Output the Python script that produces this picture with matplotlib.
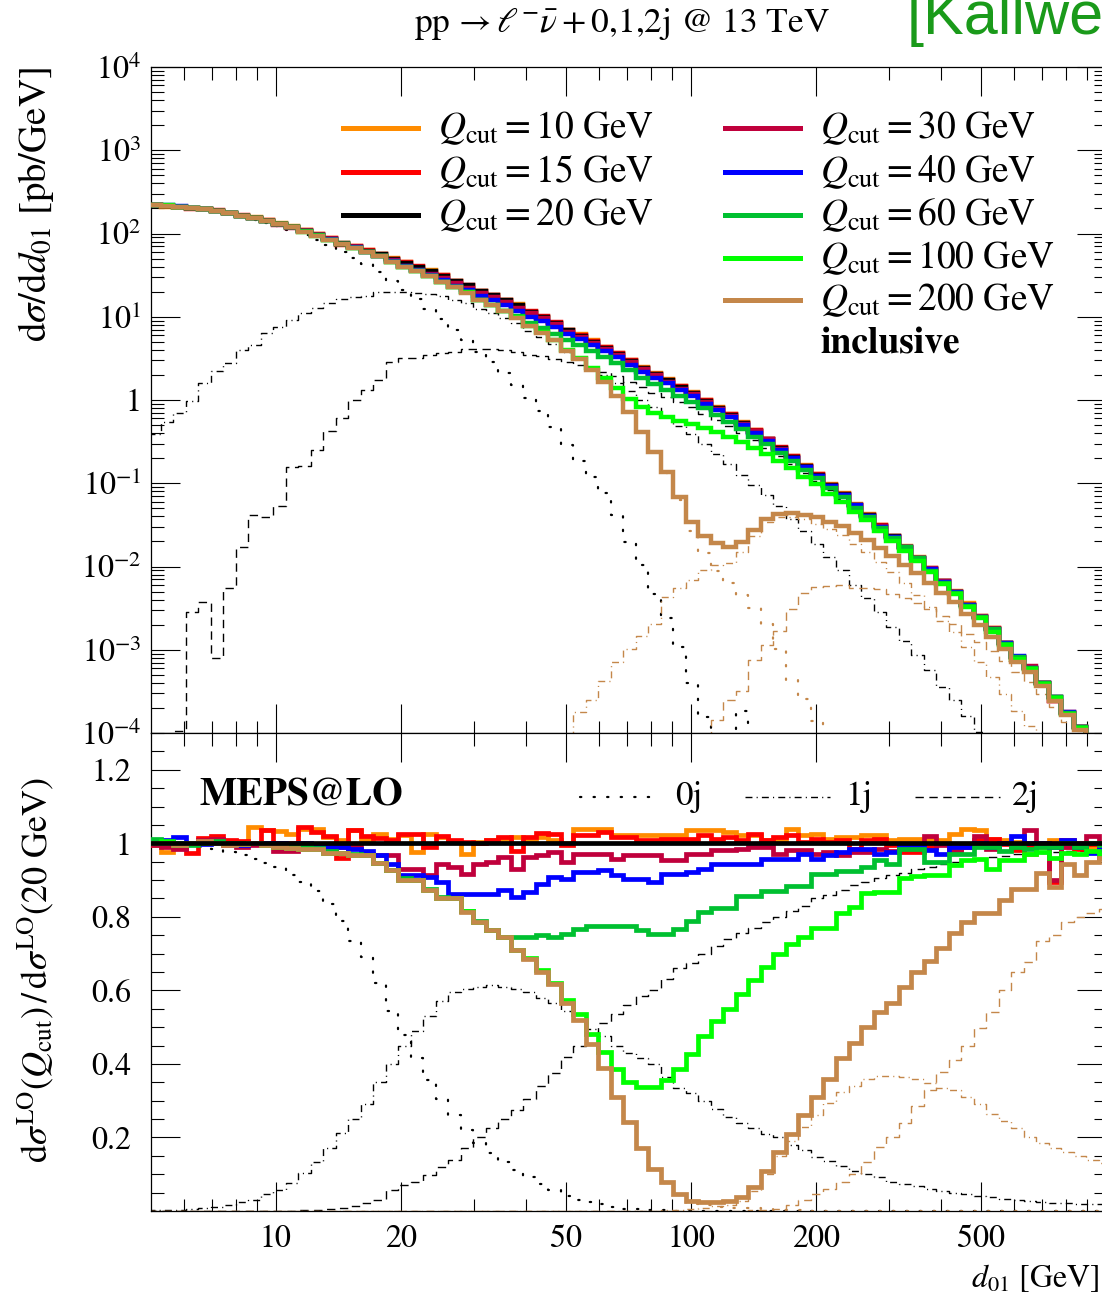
import numpy as np
import matplotlib
matplotlib.use("Agg")
import matplotlib.pyplot as plt
from matplotlib.lines import Line2D
from matplotlib.ticker import FixedLocator, FuncFormatter, LogLocator, NullFormatter, MultipleLocator

plt.rcParams['font.family'] = 'STIXGeneral'
plt.rcParams['mathtext.fontset'] = 'stix'

# ---------------------------------------------------------------- data
# logarithmic d01 binning [GeV]
bin_edges = 4.93 * 10 ** (0.03012 * np.arange(78))

# Q_cut = 20 GeV reference, dsigma/dd01 [pb/GeV]
ref_qcut20 = [
    219, 216, 211, 204, 196, 186, 176, 164, 153, 141,
    130, 120, 107, 96, 86, 76, 69, 62, 56, 49.5,
    44, 39.6, 35.3, 30.8, 26.9, 24.0, 20.3, 18.2, 15.8, 13.8,
    11.4, 9.9, 8.4, 6.9, 5.9, 5.0, 4.2, 3.6, 2.95, 2.42,
    2.05, 1.74, 1.44, 1.21, 0.975, 0.80, 0.66, 0.53, 0.424, 0.34,
    0.265, 0.207, 0.161, 0.126, 0.096, 0.0745, 0.0552, 0.0416, 0.0307, 0.0233,
    0.0172, 0.0127, 0.0094, 0.0067, 0.0050, 0.00346, 0.00248, 0.00178, 0.00121, 0.00082,
    0.00061, 0.0004, 0.000272, 0.000175, 0.000119, 7.6e-5, 5.2e-5]

# ratios d sigma(Q_cut) / d sigma(20 GeV)
ratio_qcut10 = [
    0.995, 0.976, 0.99, 1.0, 1.01, 1.005, 1.005, 1.0, 1.043, 1.035,
    1.034, 1.025, 1.04, 1.04, 1.017, 1.008, 1.035, 1.013, 1.026, 1.013,
    1.022, 0.976, 1.026, 1.017, 1.004, 0.972, 1.004, 1.008, 1.013, 1.017,
    1.008, 1.017, 1.008, 1.0, 1.04, 1.04, 1.04, 1.022, 1.022, 1.022,
    1.022, 1.022, 1.022, 1.035, 1.035, 1.035, 1.03, 1.022, 1.022, 1.008,
    1.008, 1.04, 1.022, 1.026, 1.013, 1.017, 1.017, 1.022, 1.022, 1.008,
    1.013, 1.013, 1.013, 1.008, 1.026, 1.04, 1.035, 1.013, 1.008, 1.004,
    0.972, 0.99, 1.008, 0.99, 0.99, 0.99, 1.0]
ratio_qcut15 = [
    1.0, 0.995, 0.99, 0.975, 1.015, 1.02, 1.01, 1.005, 1.0, 1.037,
    1.0, 1.0, 1.043, 1.03, 1.02, 0.96, 1.035, 1.02, 1.015, 1.01,
    1.025, 1.025, 0.99, 1.02, 1.008, 1.004, 1.0, 1.008, 1.017, 0.98,
    1.017, 1.028, 1.026, 0.995, 1.022, 1.022, 1.031, 1.017, 1.017, 1.008,
    1.008, 1.013, 1.013, 1.013, 1.022, 1.013, 1.017, 1.008, 1.026, 1.008,
    1.017, 1.022, 1.004, 1.013, 1.004, 1.008, 0.985, 1.008, 1.013, 0.995,
    0.976, 0.976, 0.99, 0.999, 0.985, 0.99, 1.008, 1.013, 0.999, 0.981,
    0.99, 0.999, 0.895, 1.008, 0.985, 0.999, 0.995]
ratio_qcut30 = [
    0.995, 0.99, 0.985, 1.0, 1.01, 1.012, 0.995, 0.99, 0.995, 0.995,
    0.98, 0.98, 1.0, 0.995, 0.995, 0.99, 0.99, 0.97, 0.967, 0.967,
    0.93, 0.93, 0.913, 0.943, 0.936, 0.917, 0.945, 0.95, 0.963, 0.93,
    0.963, 0.967, 0.976, 0.95, 0.972, 0.972, 0.972, 0.958, 0.967, 0.967,
    0.967, 0.954, 0.954, 0.972, 0.972, 0.981, 0.981, 0.985, 0.99, 0.99,
    0.972, 0.981, 0.981, 0.972, 0.976, 0.967, 0.976, 0.976, 0.985, 0.98,
    0.99, 0.99, 1.02, 0.995, 0.98, 0.99, 1.02, 0.985, 1.0, 0.99,
    1.035, 1.0, 0.9, 0.99, 1.0, 1.02, 0.96]
ratio_qcut40 = [
    1.0, 1.01, 1.016, 1.0, 0.998, 1.0, 1.0, 0.995, 1.0, 1.002,
    1.0, 0.998, 1.0, 0.995, 0.99, 0.99, 0.985, 0.98, 0.967, 0.945,
    0.913, 0.913, 0.908, 0.895, 0.863, 0.863, 0.863, 0.863, 0.872, 0.854,
    0.868, 0.89, 0.908, 0.904, 0.922, 0.922, 0.927, 0.913, 0.904, 0.904,
    0.895, 0.917, 0.917, 0.922, 0.931, 0.945, 0.945, 0.945, 0.945, 0.958,
    0.958, 0.958, 0.972, 0.958, 0.967, 0.976, 0.985, 0.985, 0.972, 0.976,
    0.995, 0.995, 0.981, 0.972, 0.99, 0.99, 1.0, 0.99, 1.0, 1.02,
    1.0, 1.0, 0.99, 1.01, 0.99, 0.975, 0.99]
ratio_qcut60 = [
    1.013, 1.0, 1.0, 0.995, 1.0, 1.005, 1.0, 1.0, 1.0, 0.998,
    0.995, 0.995, 0.99, 0.988, 0.98, 0.975, 0.97, 0.967, 0.946, 0.927,
    0.905, 0.9, 0.875, 0.855, 0.85, 0.815, 0.788, 0.763, 0.745, 0.745,
    0.745, 0.75, 0.745, 0.754, 0.768, 0.775, 0.775, 0.775, 0.775, 0.763,
    0.754, 0.754, 0.768, 0.79, 0.813, 0.825, 0.825, 0.857, 0.857, 0.87,
    0.87, 0.884, 0.884, 0.917, 0.917, 0.926, 0.926, 0.935, 0.954, 0.945,
    0.985, 0.985, 0.948, 0.948, 0.97, 0.97, 0.99, 0.99, 0.98, 0.99,
    0.985, 0.99, 0.99, 1.0, 0.99, 1.0, 0.995]
ratio_qcut100 = [
    1.0, 1.005, 0.995, 1.0, 1.0, 1.0, 0.998, 0.997, 1.0, 0.995,
    0.99, 0.988, 0.985, 0.985, 0.974, 0.974, 0.967, 0.967, 0.946, 0.927,
    0.9, 0.9, 0.872, 0.852, 0.85, 0.815, 0.786, 0.763, 0.745, 0.71,
    0.688, 0.655, 0.62, 0.573, 0.537, 0.482, 0.432, 0.387, 0.351, 0.337,
    0.337, 0.355, 0.387, 0.428, 0.475, 0.518, 0.55, 0.59, 0.627, 0.663,
    0.7, 0.727, 0.745, 0.77, 0.77, 0.81, 0.826, 0.864, 0.868, 0.868,
    0.905, 0.91, 0.913, 0.913, 0.94, 0.955, 0.958, 0.93, 0.954, 0.954,
    0.972, 0.976, 0.96, 0.975, 0.97, 0.98, 0.97]
ratio_qcut200 = [
    1.0, 1.0, 0.995, 1.0, 1.005, 1.0, 0.995, 0.997, 1.0, 0.995,
    0.99, 0.988, 0.985, 0.985, 0.974, 0.974, 0.967, 0.967, 0.946, 0.927,
    0.9, 0.9, 0.872, 0.85, 0.85, 0.813, 0.786, 0.763, 0.745, 0.709,
    0.686, 0.65, 0.618, 0.565, 0.52, 0.455, 0.39, 0.31, 0.242, 0.17,
    0.115, 0.078, 0.047, 0.028, 0.024, 0.024, 0.026, 0.037, 0.064, 0.11,
    0.16, 0.21, 0.26, 0.31, 0.36, 0.415, 0.456, 0.5, 0.54, 0.567,
    0.608, 0.649, 0.68, 0.714, 0.755, 0.785, 0.81, 0.81, 0.845, 0.877,
    0.877, 0.92, 0.88, 0.945, 0.913, 0.95, 0.96]

# jet-multiplicity contributions, as fractions of the 20 GeV total
frac20_0j = [
    0.998, 0.997, 0.996, 0.994, 0.99, 0.985, 0.977, 0.968, 0.957, 0.946,
    0.935, 0.915, 0.895, 0.87, 0.835, 0.79, 0.735, 0.69, 0.62, 0.545,
    0.48, 0.415, 0.355, 0.305, 0.26, 0.22, 0.186, 0.158, 0.133, 0.111,
    0.093, 0.074, 0.056, 0.042, 0.031, 0.024, 0.018, 0.0115, 0.0066, 0.0043,
    0.0023, 0.0014, 0.00074, 0.00033, 0.00016, 0, 0, 0.00035, 0, 0,
    0, 0, 0, 0, 0, 0, 0, 0, 0, 0,
    0, 0, 0, 0, 0, 0, 0, 0, 0, 0,
    0, 0, 0, 0, 0, 0, 0]
frac20_1j = [
    0.0018, 0.0025, 0.0033, 0.0048, 0.0082, 0.012, 0.016, 0.024, 0.03, 0.045,
    0.058, 0.076, 0.104, 0.133, 0.17, 0.213, 0.25, 0.29, 0.35, 0.40,
    0.45, 0.49, 0.53, 0.57, 0.595, 0.605, 0.61, 0.615, 0.61, 0.605,
    0.595, 0.58, 0.565, 0.545, 0.52, 0.495, 0.475, 0.45, 0.43, 0.415,
    0.40, 0.365, 0.335, 0.322, 0.3, 0.278, 0.257, 0.239, 0.226, 0.21,
    0.2, 0.18, 0.165, 0.147, 0.135, 0.122, 0.11, 0.1, 0.092, 0.08,
    0.074, 0.068, 0.06, 0.054, 0.05, 0.046, 0.042, 0.037, 0.033, 0.03,
    0.027, 0.025, 0.023, 0.021, 0.02, 0.019, 0.018]
frac20_2j = [
    0, 0, 5e-7, 1.4e-5, 1.9e-5, 4.3e-6, 3.1e-5, 1.05e-4, 2.7e-4, 2.8e-4,
    4.1e-4, 0.0013, 0.0015, 0.0026, 0.0049, 0.008, 0.0145, 0.021, 0.031, 0.058,
    0.072, 0.08, 0.098, 0.119, 0.14, 0.17, 0.2, 0.225, 0.25, 0.275,
    0.305, 0.34, 0.375, 0.42, 0.45, 0.48, 0.51, 0.535, 0.56, 0.585,
    0.6, 0.63, 0.66, 0.675, 0.7, 0.72, 0.74, 0.755, 0.77, 0.785,
    0.8, 0.815, 0.83, 0.85, 0.86, 0.872, 0.886, 0.895, 0.905, 0.915,
    0.92, 0.93, 0.935, 0.945, 0.95, 0.955, 0.958, 0.962, 0.966, 0.97,
    0.972, 0.975, 0.977, 0.978, 0.98, 0.98, 0.982]
frac200_0j = [
    1.0, 1.0, 0.995, 1.0, 1.005, 1.0, 0.995, 0.997, 1.0, 0.995,
    0.99, 0.988, 0.985, 0.985, 0.974, 0.974, 0.967, 0.967, 0.946, 0.927,
    0.9, 0.9, 0.872, 0.85, 0.85, 0.813, 0.786, 0.763, 0.745, 0.709,
    0.686, 0.65, 0.618, 0.565, 0.52, 0.455, 0.39, 0.31, 0.24, 0.17,
    0.113, 0.076, 0.044, 0.022, 0.015, 0.011, 0.0095, 0.0085, 0.0075, 0.006,
    0.0038, 0.0021, 0.0016, 0.0011, 0, 0, 0, 0, 0, 0,
    0, 0, 0, 0, 0, 0, 0, 0, 0, 0,
    0, 0, 0, 0, 0, 0, 0]
frac200_1j = [
    0, 0, 0, 0, 0, 0, 0, 0, 0, 0,
    0, 0, 0, 0, 0, 0, 0, 0, 0, 0,
    0, 0, 0, 0, 0, 0, 0, 0, 0, 0,
    0, 0, 0, 0, 3e-5, 5e-5, 1e-4, 2e-4, 3.5e-4, 6e-4,
    0.001, 0.0025, 0.0038, 0.0057, 0.0093, 0.013, 0.0165, 0.0285, 0.055, 0.1,
    0.15, 0.19, 0.228, 0.26, 0.293, 0.323, 0.34, 0.358, 0.366, 0.366,
    0.364, 0.36, 0.348, 0.335, 0.328, 0.31, 0.29, 0.265, 0.245, 0.225,
    0.2, 0.185, 0.17, 0.16, 0.15, 0.14, 0.13]
frac200_2j = [
    0, 0, 0, 0, 0, 0, 0, 0, 0, 0,
    0, 0, 0, 0, 0, 0, 0, 0, 0, 0,
    0, 0, 0, 0, 0, 0, 0, 0, 0, 0,
    0, 0, 0, 0, 0, 0, 0, 0, 0, 0,
    0, 0, 0, 0, 1e-4, 1.8e-4, 3.8e-4, 6e-4, 0.0018, 0.0034,
    0.0064, 0.015, 0.03, 0.045, 0.061, 0.08, 0.1, 0.132, 0.174, 0.2,
    0.24, 0.285, 0.33, 0.378, 0.41, 0.45, 0.497, 0.54, 0.6, 0.65,
    0.677, 0.735, 0.75, 0.785, 0.8, 0.81, 0.82]

qcut_labels = ['10', '15', '20', '30', '40', '60', '100', '200']
qcut_colors = ['#ff8c00', '#ff0000', '#000000', '#c0003c', '#0000ff',
               '#00c030', '#00ff00', '#c4874a']
x_major = [10, 20, 50, 100, 200, 500]
x_minor = [6, 7, 8, 9, 30, 40, 60, 70, 80, 90, 300, 400, 600, 700, 800, 900]

# ---------------------------------------------------------------- figure
W, H = 1102, 1300
fig = plt.figure(figsize=(W / 100, H / 100), dpi=100)


def fx(px):
    return px / W


def fy(py):
    return 1 - py / H


ax_top = fig.add_axes([fx(151), fy(733), fx(1106) - fx(151), fy(67) - fy(733)])
ax_bot = fig.add_axes([fx(151), fy(1211), fx(1106) - fx(151), fy(733) - fy(1211)])


def hist_line(ax, values, **kw):
    """Draw a histogram outline over bin_edges as one step line."""
    xs = np.repeat(bin_edges, 2)[1:-1]
    ys = np.repeat(np.asarray(values, dtype=float), 2)
    return ax.plot(xs, ys, **kw)


ref = np.array(ref_qcut20)
ratios = [np.array(r) for r in (ratio_qcut10, ratio_qcut15, np.ones(len(ref)),
                                ratio_qcut30, ratio_qcut40, ratio_qcut60,
                                ratio_qcut100, ratio_qcut200)]
brown = qcut_colors[-1]
tiny = 1e-9

dot_style = dict(linestyle=(0, (0.6, 5.5)), lw=1.6, dash_capstyle='round')
dashdot_style = dict(linestyle=(0, (5, 3, 0.8, 3)), lw=1.0)
dash_style = dict(linestyle=(0, (6, 4)), lw=1.0)
components = [
    (frac20_0j, '#000000', dot_style),
    (frac20_1j, '#000000', dashdot_style),
    (frac20_2j, '#000000', dash_style),
    (frac200_0j, brown, dot_style),
    (frac200_1j, brown, dashdot_style),
    (frac200_2j, brown, dash_style),
]

# upper panel: absolute cross sections
for frac, col, sty in components:
    hist_line(ax_top, np.maximum(ref * np.array(frac), tiny), color=col, zorder=2, **sty)
for r, col in zip(ratios, qcut_colors):
    hist_line(ax_top, np.maximum(ref * r, tiny), color=col, lw=3.2, zorder=3,
              solid_joinstyle='miter')

# lower panel: ratios to the 20 GeV prediction
for frac, col, sty in components:
    hist_line(ax_bot, frac, color=col, zorder=2, **sty)
order = [0, 1, 3, 4, 5, 6, 7, 2]
for i in order:
    hist_line(ax_bot, ratios[i], color=qcut_colors[i], lw=3.4,
              zorder=3 + (1 if i == 2 else 0), solid_joinstyle='miter')

# ---------------------------------------------------------------- axes styling
for ax in (ax_top, ax_bot):
    ax.set_xscale('log')
    ax.set_xlim(5, 1000)
    ax.xaxis.set_major_locator(FixedLocator(x_major))
    ax.xaxis.set_minor_locator(FixedLocator(x_minor))
    ax.xaxis.set_minor_formatter(NullFormatter())
    ax.tick_params(which='both', direction='in', top=True, right=True, width=0.8)
    ax.tick_params(which='major', length=21)
    ax.tick_params(which='minor', length=9)
    for s in ax.spines.values():
        s.set_linewidth(0.9)

ax_top.set_yscale('log')
ax_top.set_ylim(1e-4, 1e4)
ax_top.yaxis.set_major_locator(LogLocator(base=10, numticks=20))
ax_top.yaxis.set_minor_locator(LogLocator(base=10, subs=np.arange(2, 10), numticks=20))
ax_top.yaxis.set_minor_formatter(NullFormatter())


def log_label(v, pos):
    e = int(round(np.log10(v)))
    return '1' if e == 0 else r'$10^{%d}$' % e


ax_top.yaxis.set_major_formatter(FuncFormatter(log_label))
ax_top.tick_params(axis='x', labelbottom=False)
ax_top.tick_params(axis='y', labelsize=23, pad=7)

ax_bot.set_ylim(0, 1.3)
ax_bot.yaxis.set_major_locator(FixedLocator([0.2, 0.4, 0.6, 0.8, 1.0, 1.2]))
ax_bot.yaxis.set_minor_locator(MultipleLocator(0.05))
ax_bot.yaxis.set_major_formatter(FuncFormatter(lambda v, p: ('%g' % v)))
ax_bot.xaxis.set_major_formatter(FuncFormatter(lambda v, p: '%d' % v))
ax_bot.tick_params(axis='y', labelsize=23, pad=14)
ax_bot.tick_params(axis='x', labelsize=23, pad=10)

# ---------------------------------------------------------------- text
fig.text(fx(622), fy(24), r'pp$\,\rightarrow\ell^{-}\bar{\nu}+$0,1,2j @ 13 TeV',
         ha='center', va='center', fontsize=25.5)
fig.text(fx(907), fy(34), '[Kallweit', ha='left', va='baseline', fontsize=44,
         color='#1a9a1a', family='Liberation Sans')
fig.text(fx(36), fy(205), r'$\mathrm{d}\sigma/\mathrm{d}d_{01}$ [pb/GeV]',
         rotation=90, ha='center', va='center', fontsize=28)
fig.text(fx(36), fy(970),
         r'$\mathrm{d}\sigma^{\mathrm{LO}}(Q_{\mathrm{cut}})\,/\,\mathrm{d}\sigma^{\mathrm{LO}}(20$ GeV$)$',
         rotation=90, ha='center', va='center', fontsize=26)
fig.text(fx(1100), fy(1278), r'$d_{01}$ [GeV]', ha='right', va='center', fontsize=23)

# legend of the Q_cut variations
legend_rows = [(343, 128), (343, 172), (343, 215),
               (725, 128), (725, 172), (725, 215), (725, 258), (725, 300)]
for (px, py), lab, col in zip(legend_rows, qcut_labels, qcut_colors):
    fig.add_artist(Line2D([fx(px), fx(px + 75)], [fy(py), fy(py)], color=col, lw=3.6,
                          transform=fig.transFigure))
    fig.text(fx(px + 95), fy(py), r'$Q_{\mathrm{cut}} = %s$ GeV' % lab,
             ha='left', va='center', fontsize=27)
fig.text(fx(820), fy(345), 'inclusive', ha='left', va='center', fontsize=27,
         fontweight='bold')

fig.text(fx(200), fy(796), 'MEPS@LO', ha='left', va='center', fontsize=28.5,
         fontweight='bold')
for (x0, x1, tx, lab, sty) in [(580, 660, 675, '0j', dot_style),
                                (745, 830, 845, '1j', dashdot_style),
                                (915, 1000, 1012, '2j', dash_style)]:
    fig.add_artist(Line2D([fx(x0), fx(x1)], [fy(797), fy(797)], color='black',
                          transform=fig.transFigure, **sty))
    fig.text(fx(tx), fy(797), lab, ha='left', va='center', fontsize=25)

fig.savefig('out.png', dpi=100)
